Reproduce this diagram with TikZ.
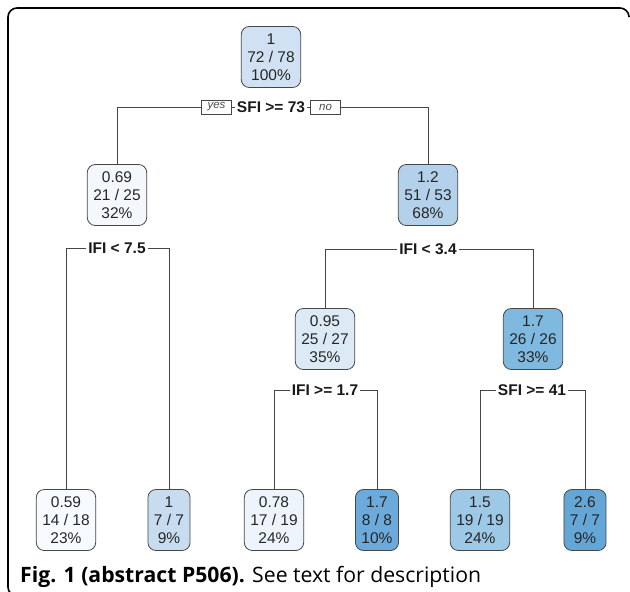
\documentclass[tikz,border=0pt]{standalone}
\usepackage{fontspec}
\setmainfont{Liberation Sans}
\newfontfamily\capfont{Open Sans}
\usetikzlibrary{positioning}
\definecolor{treeline}{RGB}{70,70,70}
\definecolor{blueone}{RGB}{207,225,242}
\definecolor{bluetwo}{RGB}{244,248,253}
\definecolor{bluethree}{RGB}{179,209,234}
\definecolor{bluesix}{RGB}{220,234,246}
\definecolor{blueseven}{RGB}{128,185,223}
\definecolor{bluefour}{RGB}{247,251,255}
\definecolor{bluefive}{RGB}{200,220,240}
\definecolor{bluetwelve}{RGB}{237,244,251}
\definecolor{bluethirteen}{RGB}{107,170,218}
\definecolor{bluefourteen}{RGB}{157,200,230}
\definecolor{bluefifteen}{RGB}{100,166,214}

\begin{document}
\begin{tikzpicture}[
  x=1pt, y=-1pt,
  tnode/.style={
    rectangle, rounded corners=8pt,
    draw=treeline, line width=0.8pt,
    align=center, inner xsep=6pt, inner ysep=4pt,
    minimum height=61pt, text=black!85,
    font=\fontsize{15.5}{18}\selectfont
  },
  split/.style={inner xsep=2pt, inner ysep=1pt, text=black!90,
    font=\bfseries\fontsize{15.5}{17}\selectfont},
  yesno/.style={draw=treeline, line width=0.6pt, inner sep=1pt,
    minimum width=30pt, minimum height=14pt, text=black!70,
    font=\itshape\fontsize{11.5}{12}\selectfont},
  edge/.style={treeline, line width=0.8pt},
  frame/.style={black, line width=1.6pt, rounded corners=9pt}
]
\useasboundingbox (0,0) rectangle (630,592);
\draw[frame] (18,596) -- (8,596) -- (8,8) -- (629,8) -- (629,16);

% level 1
\node[tnode, fill=blueone] (nd1) at (271,57) {1\\72 / 78\\100\%};
\node[split] (split1) at (271,107) {SFI >= 73};
\node[yesno, left=3pt of split1] (yes) {yes};
\node[yesno, right=3pt of split1] (no) {no};

% level 2
\node[tnode, fill=bluetwo] (nd2) at (117,195) {0.69\\21 / 25\\32\%};
\node[tnode, fill=bluethree] (nd3) at (428,195) {1.2\\51 / 53\\68\%};
\node[split] (split2) at (117,248) {IFI < 7.5};
\node[split] (split3) at (428,249) {IFI < 3.4};

% level 3
\node[tnode, fill=bluesix] (nd6) at (325,339) {0.95\\25 / 27\\35\%};
\node[tnode, fill=blueseven] (nd7) at (533,339) {1.7\\26 / 26\\33\%};
\node[split] (split6) at (325,390) {IFI >= 1.7};
\node[split] (split7) at (532,390) {SFI >= 41};

% leaves
\node[tnode, fill=bluefour] (nd4) at (66,520) {0.59\\14 / 18\\23\%};
\node[tnode, fill=bluefive] (nd5) at (169,520) {1\\7 / 7\\9\%};
\node[tnode, fill=bluetwelve] (nd12) at (274,520) {0.78\\17 / 19\\24\%};
\node[tnode, fill=bluethirteen] (nd13) at (377,520) {1.7\\8 / 8\\10\%};
\node[tnode, fill=bluefourteen] (nd14) at (480,520) {1.5\\19 / 19\\24\%};
\node[tnode, fill=bluefifteen] (nd15) at (585,520) {2.6\\7 / 7\\9\%};

% branches
\draw[edge] (yes) -- (split1);
\draw[edge] (split1) -- (no);
\draw[edge] (yes.west) -| (nd2.north);
\draw[edge] (no.east) -| (nd3.north);
\foreach \s/\l/\r in {split2/nd4/nd5, split3/nd6/nd7,
                      split6/nd12/nd13, split7/nd14/nd15} {
  \draw[edge] (\s.west) -| (\l.north);
  \draw[edge] (\s.east) -| (\r.north);
}

\node[anchor=base west, inner sep=0pt,
      font=\capfont\fontsize{21.2}{24}\selectfont] (caption) at (20,582)
  {\textbf{Fig. 1 (abstract P506).} See text for description};
\end{tikzpicture}
\end{document}
